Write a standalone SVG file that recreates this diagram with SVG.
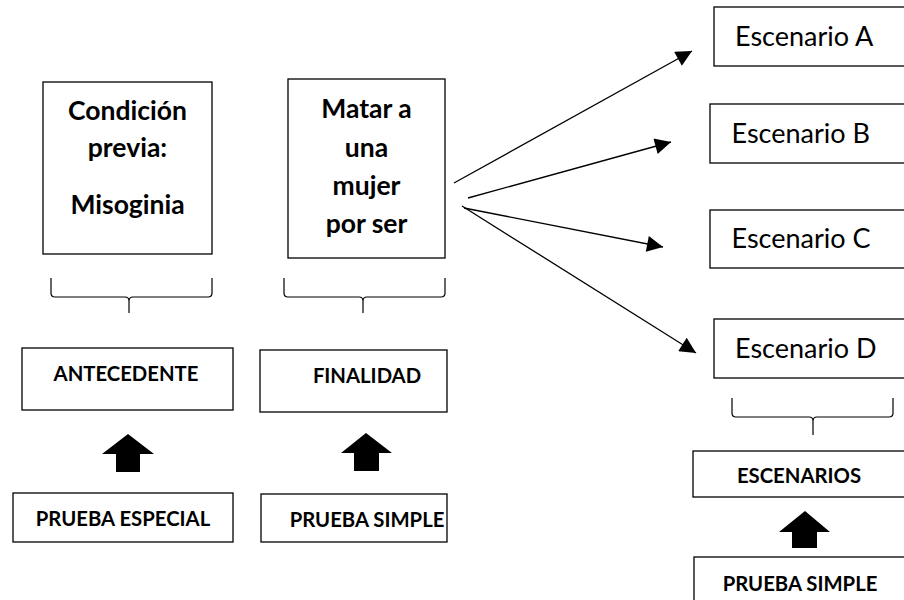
<svg xmlns="http://www.w3.org/2000/svg" width="904" height="600" viewBox="0 0 904 600">
<defs>
<style>
.box{fill:#fff;stroke:#000;stroke-width:1.3}
.big{font-family:Lato,"Liberation Sans",sans-serif;font-weight:bold;font-size:26.5px;text-anchor:middle;fill:#000}
.lab{font-family:Lato,"Liberation Sans",sans-serif;font-weight:bold;font-size:20.3px;text-anchor:middle;fill:#000}
.esc{font-family:Lato,"Liberation Sans",sans-serif;font-size:27px;fill:#000}
.brace{fill:none;stroke:#000;stroke-width:1.2}
.con{stroke:#000;stroke-width:1.3;fill:none}
.blk{fill:#000}
</style>
<marker id="ah" viewBox="0 0 10 10" refX="10" refY="5" markerWidth="22" markerHeight="16" markerUnits="userSpaceOnUse" orient="auto">
<path d="M0,0 L10,5 L0,10 Z" fill="#000"/>
</marker>
</defs>
<rect width="904" height="600" fill="#fff"/>

<g id="condicion">
<rect class="box" x="43" y="82" width="169" height="172"/>
<text class="big" x="127.5" y="120">Condición</text>
<text class="big" x="127.5" y="157">previa:</text>
<text class="big" x="127.5" y="214">Misoginia</text>
</g>
<g id="matar">
<rect class="box" x="288" y="79" width="157" height="179"/>
<text class="big" x="366.5" y="118">Matar a</text>
<text class="big" x="366.5" y="157">una</text>
<text class="big" x="366.5" y="195">mujer</text>
<text class="big" x="366.5" y="233">por ser</text>
</g>

<g id="brace1"><path class="brace" d="M51,278 L51,293 Q51,297 55,297 L125,297 Q129,297 129,301 L129,313 M129,301 Q129,297 133,297 L208,297 Q212,297 212,293 L212,278"/></g>
<g id="brace2"><path class="brace" d="M284,278 L284,293 Q284,297 288,297 L359,297 Q363,297 363,301 L363,313 M363,301 Q363,297 367,297 L441,297 Q445,297 445,293 L445,278"/></g>
<g id="brace3"><path class="brace" d="M732,398 L732,413 Q732,417 736,417 L809,417 Q813,417 813,421 L813,435 M813,421 Q813,417 817,417 L889,417 Q893,417 893,413 L893,398"/></g>

<g id="antecedente">
<rect class="box" x="22" y="348" width="211" height="62"/>
<text class="lab" x="126" y="381">ANTECEDENTE</text>
</g>
<g id="finalidad">
<rect class="box" x="260" y="350" width="187" height="62"/>
<text class="lab" x="367" y="383">FINALIDAD</text>
</g>
<g id="prueba-especial">
<rect class="box" x="13" y="493" width="220" height="49"/>
<text class="lab" x="123" y="526">PRUEBA ESPECIAL</text>
</g>
<g id="prueba-simple-1">
<rect class="box" x="261" y="494" width="186" height="48"/>
<text class="lab" x="367" y="527">PRUEBA SIMPLE</text>
</g>

<g id="escenario-a">
<rect class="box" x="714" y="7" width="200" height="59"/>
<text class="esc" x="735" y="46">Escenario A</text>
</g>
<g id="escenario-b">
<rect class="box" x="710" y="104" width="204" height="59"/>
<text class="esc" x="731.5" y="143">Escenario B</text>
</g>
<g id="escenario-c">
<rect class="box" x="710" y="210" width="204" height="58"/>
<text class="esc" x="731.5" y="248">Escenario C</text>
</g>
<g id="escenario-d">
<rect class="box" x="714" y="319" width="200" height="59"/>
<text class="esc" x="735" y="358">Escenario D</text>
</g>
<g id="escenarios">
<rect class="box" x="693" y="451" width="221" height="46"/>
<text class="lab" x="799" y="483">ESCENARIOS</text>
</g>
<g id="prueba-simple-2">
<rect class="box" x="694" y="557" width="220" height="60"/>
<text class="lab" x="800" y="591">PRUEBA SIMPLE</text>
</g>

<g id="connectors">
<line class="con" x1="454" y1="183" x2="692" y2="51" marker-end="url(#ah)"/>
<line class="con" x1="468" y1="198" x2="671" y2="142" marker-end="url(#ah)"/>
<line class="con" x1="464" y1="208" x2="663" y2="247" marker-end="url(#ah)"/>
<line class="con" x1="462" y1="206" x2="696" y2="353" marker-end="url(#ah)"/>
<path class="blk" d="M128,434 L154,454 L140,454 L140,472 L116,472 L116,454 L102,454 Z"/>
<path class="blk" d="M366,433 L392,453 L379,453 L379,471 L354,471 L354,453 L341,453 Z"/>
<path class="blk" d="M805,511 L830,532 L817,532 L817,548 L792,548 L792,532 L779,532 Z"/>
</g>
</svg>
